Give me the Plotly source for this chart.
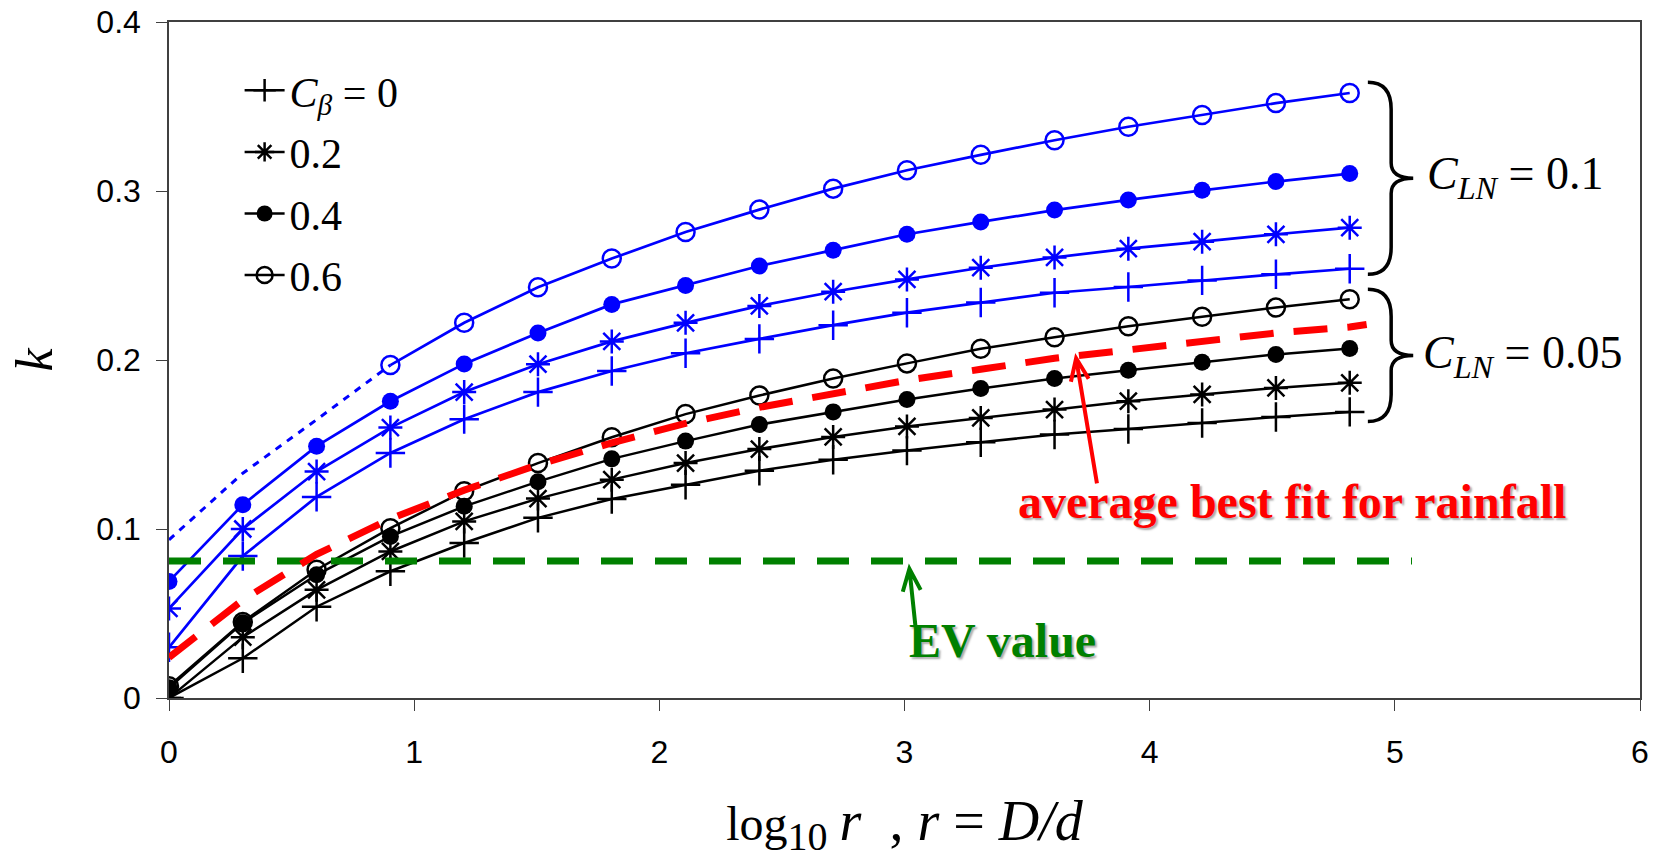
import math
import plotly.graph_objects as go

# ---------------- data ----------------
x_log = [0, 0.301, 0.602, 0.903, 1.204, 1.505, 1.806, 2.107, 2.408, 2.709,
         3.010, 3.311, 3.612, 3.913, 4.214, 4.515, 4.816]

# C_LN = 0.1 (blue)
blue_cb0 = [0.030, 0.084, 0.119, 0.145, 0.165, 0.181, 0.1935, 0.204, 0.2125, 0.2206,
            0.228, 0.234, 0.2398, 0.2432, 0.2471, 0.2507, 0.254]
blue_cb02 = [0.053, 0.100, 0.134, 0.160, 0.181, 0.1975, 0.211, 0.222, 0.232, 0.2404,
             0.2477, 0.2546, 0.2607, 0.2659, 0.270, 0.2744, 0.2783]
blue_cb04 = [0.069, 0.1144, 0.149, 0.1756, 0.1977, 0.216, 0.2329, 0.2441, 0.2556, 0.265,
             0.2744, 0.2817, 0.2887, 0.2947, 0.3004, 0.3056, 0.3103]
blue_cb06_x = x_log[3:]
blue_cb06 = [0.197, 0.222, 0.243, 0.260, 0.2757, 0.289, 0.3014, 0.3123, 0.3214, 0.330,
             0.338, 0.345, 0.352, 0.358]
blue_cb06_dotted_x = x_log[:4]
blue_cb06_dotted = [0.0936, 0.133, 0.1647, 0.197]

# C_LN = 0.05 (black)
black_cb0 = [0.0, 0.0235, 0.054, 0.075, 0.0917, 0.1066, 0.1177, 0.1262, 0.1345, 0.141,
             0.1464, 0.1513, 0.1559, 0.1592, 0.1627, 0.1663, 0.1693]
black_cb02 = [0.0, 0.036, 0.064, 0.0867, 0.1045, 0.118, 0.1292, 0.139, 0.1473, 0.1545,
              0.1607, 0.1657, 0.1707, 0.1756, 0.1796, 0.1835, 0.1865]
black_cb04 = [0.006, 0.0445, 0.0729, 0.0956, 0.1134, 0.128, 0.1415, 0.152, 0.1618, 0.1693,
              0.1766, 0.1831, 0.189, 0.194, 0.1987, 0.2033, 0.2068]
black_cb06 = [0.007, 0.045, 0.0759, 0.1005, 0.1223, 0.139, 0.1543, 0.168, 0.179, 0.189,
              0.198, 0.2066, 0.2135, 0.220, 0.2256, 0.231, 0.2359]

# average best fit for rainfall (red dashed)
red_x = [0, 0.301, 0.602, 0.903, 1.204, 1.505, 1.806, 2.107, 2.408, 2.709,
         3.010, 3.311, 3.612, 3.913, 4.214, 4.515, 4.816, 4.885]
red_y = [0.024, 0.058, 0.085, 0.106, 0.123, 0.138, 0.151, 0.1625, 0.172, 0.180,
         0.188, 0.1945, 0.201, 0.206, 0.211, 0.216, 0.2195, 0.221]

# EV value (green dashed)
ev_x = [0, 5.07]
ev_y = [0.081, 0.081]

legend_names = ["<i>C</i><sub><i>β</i></sub> = 0", "0.2", "0.4", "0.6"]
x_ticks = [0, 1, 2, 3, 4, 5, 6]
y_ticks = [0, 0.1, 0.2, 0.3, 0.4]
y_tick_text = ["0", "0.1", "0.2", "0.3", "0.4"]

# ---------------- styles ----------------
BLUE = "#0000FF"
BLACK = "#000000"
SERIF = "Liberation Serif, Times New Roman, serif"
SANS = "Liberation Sans, Arial, sans-serif"

W, H = 1654, 859
ML, MR, MT, MB = 169, 14, 22, 161
PW, PH = W - ML - MR, H - MT - MB
XR, YR = (0, 6), (0, 0.4)
PX_X = PW / (XR[1] - XR[0])
PX_Y = PH / (YR[1] - YR[0])

sym = [dict(symbol="cross-thin", size=21, lw=2.5),
       dict(symbol="asterisk", size=20, lw=2.5),
       dict(symbol="circle", size=17, lw=0),
       dict(symbol="circle-open", size=18, lw=2.5)]


def marker(i, color):
    s = sym[i]
    return dict(symbol=s["symbol"], size=s["size"], color=color,
                line=dict(width=s["lw"], color=color))


fig = go.Figure()

black_series = [(x_log, black_cb0), (x_log, black_cb02), (x_log, black_cb04), (x_log, black_cb06)]
blue_series = [(x_log, blue_cb0), (x_log, blue_cb02), (x_log, blue_cb04), (blue_cb06_x, blue_cb06)]

for i, (xs, ys) in enumerate(black_series):
    fig.add_trace(go.Scatter(x=xs, y=ys, mode="lines+markers", showlegend=False,
                             line=dict(color=BLACK, width=2.5), marker=marker(i, BLACK)))
for i, (xs, ys) in enumerate(blue_series):
    fig.add_trace(go.Scatter(x=xs, y=ys, mode="lines+markers", showlegend=False,
                             line=dict(color=BLUE, width=2.7), marker=marker(i, BLUE)))
fig.add_trace(go.Scatter(x=blue_cb06_dotted_x, y=blue_cb06_dotted, mode="lines", showlegend=False,
                         line=dict(color=BLUE, width=3, dash="7px,7px")))
fig.add_trace(go.Scatter(x=ev_x, y=ev_y, mode="lines", showlegend=False,
                         line=dict(color="#008000", width=7, dash="32px,22px")))
fig.add_trace(go.Scatter(x=red_x, y=red_y, mode="lines", showlegend=False,
                         line=dict(color="#FF0000", width=7, dash="34px,20px")))

# legend-only traces (black)
for i, name in enumerate(legend_names):
    fig.add_trace(go.Scatter(x=[None], y=[None], mode="lines+markers", name=name,
                             legendgroup=f"g{i}", showlegend=True,
                             line=dict(color=BLACK, width=2.5), marker=marker(i, BLACK)))


def arrow_path(x0, y0, x1, y1, head=24, ang=22):
    """arrow from tail (x0,y0) to tip (x1,y1); wings computed in pixel space"""
    dx = (x1 - x0) * PX_X
    dy = (y1 - y0) * PX_Y
    th = math.atan2(dy, dx)
    pts = []
    for s in (+1, -1):
        a = th + math.pi - s * math.radians(ang)
        pts.append((x1 + head * math.cos(a) / PX_X, y1 + head * math.sin(a) / PX_Y))
    return (f"M {x0},{y0} L {x1},{y1} M {pts[0][0]},{pts[0][1]} L {x1},{y1} "
            f"L {pts[1][0]},{pts[1][1]}")


def brace_path(x0, xm, xt, ytop, ybot, r=0.016, rt=0.009):
    ymid = (ytop + ybot) / 2
    return (f"M {x0},{ytop} Q {xm},{ytop} {xm},{ytop - r} L {xm},{ymid + rt} "
            f"Q {xm},{ymid} {xt},{ymid} Q {xm},{ymid} {xm},{ymid - rt} "
            f"L {xm},{ybot + r} Q {xm},{ybot} {x0},{ybot}")


shapes = [
    dict(type="path", xref="x", yref="y", path=brace_path(4.89, 4.985, 5.075, 0.3644, 0.2507),
         line=dict(color=BLACK, width=3.5)),
    dict(type="path", xref="x", yref="y", path=brace_path(4.89, 4.985, 5.075, 0.2418, 0.1636),
         line=dict(color=BLACK, width=3.5)),
    dict(type="path", xref="x", yref="y", path=arrow_path(3.785, 0.127, 3.70, 0.201),
         line=dict(color="#FF0000", width=4)),
    dict(type="path", xref="x", yref="y", path=arrow_path(3.045, 0.042, 3.02, 0.0765),
         line=dict(color="#008000", width=4)),
]

annotations = [
    dict(x=5.125, y=0.3085, xref="x", yref="y", xanchor="left", yanchor="middle", showarrow=False,
         text="<i>C</i><sub><i>LN</i></sub> = 0.1", font=dict(family=SERIF, size=46, color=BLACK)),
    dict(x=5.105, y=0.2025, xref="x", yref="y", xanchor="left", yanchor="middle", showarrow=False,
         text="<i>C</i><sub><i>LN</i></sub> = 0.05", font=dict(family=SERIF, size=46, color=BLACK)),
    dict(x=4.58, y=0.1165, xref="x", yref="y", xanchor="center", yanchor="middle", showarrow=False,
         text="average best fit for rainfall",
         font=dict(family=SERIF, size=48, color="#FF0000", weight="bold",
                   shadow="2px 2px 2px #aaaaaa")),
    dict(x=3.40, y=0.034, xref="x", yref="y", xanchor="center", yanchor="middle", showarrow=False,
         text="EV value",
         font=dict(family=SERIF, size=48, color="#008000", weight="bold",
                   shadow="2px 2px 2px #aaaaaa")),
]

x_title = ("log<sub><span style='font-size:40px'>10</span></sub>&nbsp;"
           "<span style='font-size:56px'><i>r</i>&nbsp;&nbsp;, <i>r</i> = <i>D/d</i></span>")

fig.update_layout(
    width=W, height=H,
    margin=dict(l=ML, r=MR, t=MT, b=MB),
    paper_bgcolor="white", plot_bgcolor="white",
    shapes=shapes, annotations=annotations,
    showlegend=True,
    legend=dict(x=0.048, y=0.949, xanchor="left", yanchor="top",
                font=dict(family=SERIF, size=42, color=BLACK),
                bgcolor="rgba(0,0,0,0)", tracegroupgap=4, itemwidth=40,
                traceorder="grouped"),
    xaxis=dict(range=list(XR), tickvals=x_ticks, ticks="outside", ticklen=11, tickwidth=1.2,
               tickcolor="#404040", showline=True, linecolor="#404040", linewidth=1.5,
               mirror=True, showgrid=False, zeroline=False, ticklabelstandoff=14,
               automargin=False,
               tickfont=dict(family=SANS, size=32, color=BLACK),
               title=dict(text=x_title, font=dict(family=SERIF, size=48, color=BLACK),
                          standoff=39)),
    yaxis=dict(range=list(YR), tickvals=y_ticks, ticktext=y_tick_text, ticks="outside",
               ticklen=11, tickwidth=1.2, tickcolor="#404040", showline=True,
               linecolor="#404040", linewidth=1.5, mirror=True, showgrid=False,
               zeroline=False, ticklabelstandoff=9, automargin=False,
               tickfont=dict(family=SANS, size=32, color=BLACK),
               title=dict(text="<i>k</i>", font=dict(family=SERIF, size=52, color=BLACK),
                          standoff=27)),
)

fig.write_html("out.html",
               config={"displayModeBar": False},
               post_script="document.body.style.margin='0';document.body.style.padding='0';")
